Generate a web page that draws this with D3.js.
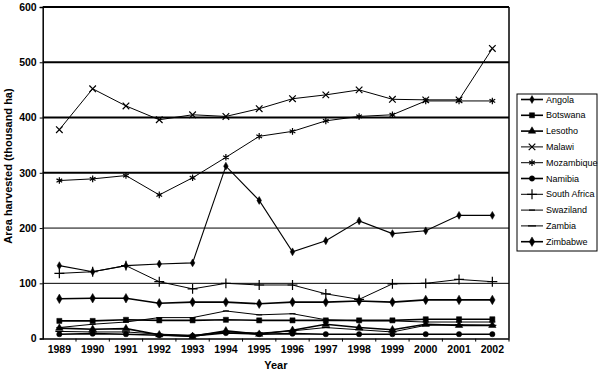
<!DOCTYPE html>
<html>
<head>
  <meta charset="utf8">
  <style type="text/css">
    body { margin: 0; background: #fff; font-family: "Liberation Sans", Arial, sans-serif; }
    .tick text { font-weight: bold; font-size: 10.5px; fill: #000; }
    .legend text { font-size: 9px; fill: #000; }
    .title { font-weight: bold; font-size: 11px; }
  </style>
</head>
<body>
<script src="https://cdnjs.cloudflare.com/ajax/libs/d3/7.8.5/d3.min.js"></script>
<script type="text/javascript">

var years = [1989, 1990, 1991, 1992, 1993, 1994, 1995, 1996, 1997, 1998, 1999, 2000, 2001, 2002]
var countries = ['Angola', 'Botswana', 'Lesotho', 'Malawi', 'Mozambique', 'Namibia',
  'South Africa', 'Swaziland', 'Zambia', 'Zimbabwe']

var angola      = [132, 121, 132, 135, 137, 312, 250, 157, 177, 213, 190, 195, 223, 223]
var botswana    = [32, 32, 34, 33, 33, 34, 33, 33, 33, 33, 33, 35, 35, 35]
var lesotho     = [19, 17, 18, 7, 4, 14, 8, 15, 26, 20, 16, 26, 24, 24]
var malawi      = [378, 452, 421, 396, 405, 402, 416, 434, 441, 450, 433, 432, 432, 525]
var mozambique  = [286, 289, 295, 260, 291, 328, 366, 375, 394, 402, 405, 430, 430, 430]
var namibia     = [8, 9, 8, 6, 5, 10, 8, 9, 8, 8, 8, 8, 8, 8]
var southAfrica = [118, 121, 132, 103, 90, 100, 97, 97, 81, 71, 99, 100, 107, 103]
var swaziland   = [20, 26, 30, 38, 38, 50, 43, 45, 34, 32, 32, 30, 30, 30]
var zambia      = [13, 12, 12, 8, 6, 12, 10, 14, 20, 16, 12, 24, 25, 24]
var zimbabwe    = [72, 73, 73, 64, 66, 66, 63, 66, 66, 68, 66, 70, 70, 70]

var yTicks = [0, 100, 200, 300, 400, 500, 600]

var series = [angola, botswana, lesotho, malawi, mozambique, namibia,
  southAfrica, swaziland, zambia, zimbabwe]

// marker + line weight per country, in legend order (w = plot line, lw = legend line)
var markers = [
  { type: d3.symbolDiamond, size: 18, fill: true, w: 1.1, lw: 1.6 },
  { type: d3.symbolSquare, size: 26, fill: true, w: 1.6, lw: 1.6 },
  { type: d3.symbolTriangle, size: 24, fill: true, w: 1.6, lw: 1.6 },
  { type: d3.symbolTimes, size: 30, fill: false, w: 1, lw: 1 },
  { type: d3.symbolAsterisk, size: 30, fill: false, w: 1, lw: 1 },
  { type: d3.symbolCircle, size: 22, fill: true, w: 1.6, lw: 1.6 },
  { type: d3.symbolPlus, size: 34, fill: false, w: 1, lw: 1 },
  { type: 'dash', len: 3, w: 1, lw: 1 },
  { type: 'dash', len: 4, w: 1, lw: 1 },
  { type: d3.symbolDiamond, size: 26, fill: true, w: 1.6, lw: 1.6 }
]

var width = 599, height = 371
var plot = { left: 42.7, right: 509, top: 7, bottom: 338.6 }

var svg = d3.select('body').append('svg')
    .attr('width', width)
    .attr('height', height)

var x = d3.scaleBand().domain(years).range([plot.left, plot.right]).padding(0)
var y = d3.scaleLinear().domain([0, 600]).range([plot.bottom, plot.top])
var cx = function(d) { return x(d) + x.bandwidth() / 2 }

// gridlines
svg.append('g').selectAll('line')
  .data(yTicks.slice(1))
  .enter().append('line')
  .attr('x1', plot.left).attr('x2', plot.right)
  .attr('y1', function(d) { return y(d) }).attr('y2', function(d) { return y(d) })
  .attr('stroke', '#000')
  .attr('stroke-width', function(d) { return d >= 300 ? 2 : 1 })

// right border
svg.append('line')
  .attr('x1', plot.right).attr('x2', plot.right)
  .attr('y1', plot.top).attr('y2', plot.bottom)
  .attr('stroke', '#000').attr('stroke-width', 1.5)

// axes
var yAxis = svg.append('g')
  .attr('transform', 'translate(' + plot.left + ',0)')
  .call(d3.axisLeft(y).tickValues(yTicks).tickSize(3).tickPadding(3))
var xAxis = svg.append('g')
  .attr('transform', 'translate(0,' + plot.bottom + ')')
  .call(d3.axisBottom(x).tickSize(0).tickPadding(7))

xAxis.selectAll('.tick').append('line')
  .attr('x1', x.bandwidth() / 2).attr('x2', x.bandwidth() / 2)
  .attr('y1', 0).attr('y2', 3)
  .attr('stroke', '#000')

;[yAxis, xAxis].forEach(function(a) {
  a.select('.domain').attr('stroke', '#000').attr('stroke-width', 1.5)
  a.selectAll('.tick line').attr('stroke', '#000')
})

svg.append('text')
  .attr('class', 'title')
  .attr('x', (plot.left + plot.right) / 2)
  .attr('y', 369)
  .attr('text-anchor', 'middle')
  .text('Year')

svg.append('text')
  .attr('class', 'title')
  .attr('transform', 'translate(12,' + 166 + ') rotate(-90)')
  .attr('text-anchor', 'middle')
  .text('Area harvested (thousand ha)')

function markerPath(m) {
  if (m.type === 'dash') return 'M' + (-m.len) + ',0H' + m.len
  return d3.symbol().type(m.type).size(m.size)()
}

function drawMarker(sel, m) {
  sel.append('path')
    .attr('d', markerPath(m))
    .attr('fill', m.fill ? '#000' : 'none')
    .attr('stroke', '#000')
    .attr('stroke-width', m.fill ? 0.5 : 1.2)
}

var line = d3.line()
  .x(function(d, i) { return cx(years[i]) })
  .y(function(d) { return y(d) })

var lines = svg.append('g')
series.forEach(function(s, k) {
  var m = markers[k]
  lines.append('path')
    .attr('d', line(s))
    .attr('fill', 'none')
    .attr('stroke', '#000')
    .attr('stroke-width', m.w)
  var pts = lines.append('g').selectAll('g')
    .data(s)
    .enter().append('g')
    .attr('transform', function(d, i) { return 'translate(' + cx(years[i]) + ',' + y(d) + ')' })
  drawMarker(pts, m)
})

// legend
var legend = svg.append('g').attr('class', 'legend')
legend.append('rect')
  .attr('x', 517).attr('y', 94).attr('width', 80).attr('height', 157)
  .attr('fill', '#fff').attr('stroke', '#000')

var item = legend.selectAll('.item')
  .data(countries)
  .enter().append('g')
  .attr('class', 'item')
  .attr('transform', function(d, i) { return 'translate(521,' + (99.5 + i * 15.8) + ')' })

item.append('line')
  .attr('x1', 0).attr('x2', 22)
  .attr('stroke', '#000')
  .attr('stroke-width', function(d, i) { return markers[i].lw })

item.each(function(d, i) {
  var g = d3.select(this).append('g').attr('transform', 'translate(11,0)')
  drawMarker(g, markers[i])
})

item.append('text')
  .attr('x', 25)
  .attr('dy', '0.35em')
  .text(function(d) { return d })

</script>
</body>
</html>
